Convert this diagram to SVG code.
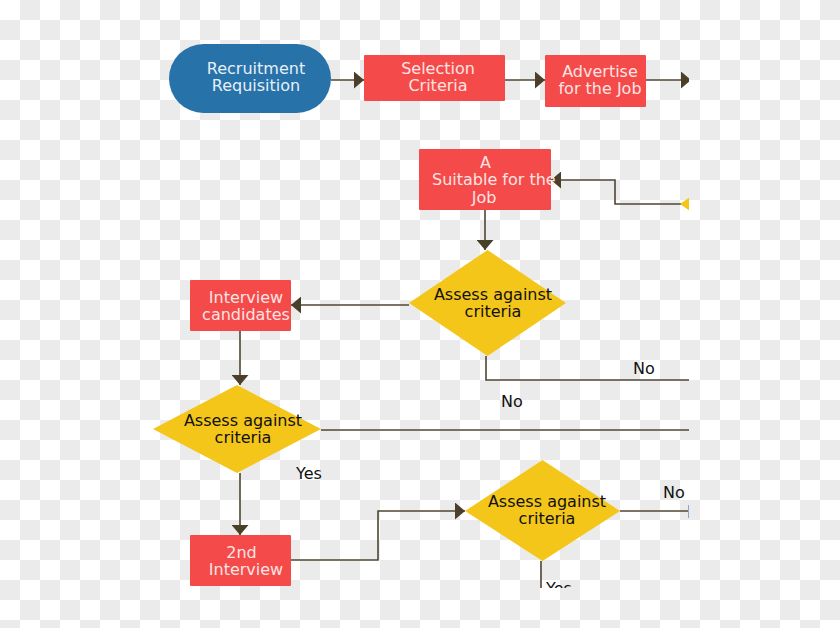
<svg xmlns="http://www.w3.org/2000/svg" width="840" height="628" viewBox="0 0 840 628">
<defs>
<pattern id="checker" x="0" y="0" width="40" height="40" patternUnits="userSpaceOnUse">
<rect width="40" height="40" fill="#ffffff"/>
<rect x="20" y="0" width="20" height="20" fill="#ebebeb"/>
<rect x="0" y="20" width="20" height="20" fill="#ebebeb"/>
</pattern>
<clipPath id="clip"><rect x="0" y="0" width="689" height="588"/></clipPath>
<marker id="arr" markerUnits="userSpaceOnUse" markerWidth="10" markerHeight="17" refX="10" refY="8.5" orient="auto">
<path d="M0,0 L10,8.5 L0,17 z" fill="#4a4029"/>
</marker>
</defs>
<style>
.conn{fill:none;stroke:#4f4634;stroke-width:1.6}
.box{fill:#f44b4a}
.dia{fill:#f4c61a}
.wt{font-family:"DejaVu Sans",sans-serif;font-size:16px;fill:#fde3e3;text-anchor:middle}
.bt{font-family:"DejaVu Sans",sans-serif;font-size:16px;fill:#111111;text-anchor:middle}
.lbl{font-family:"DejaVu Sans",sans-serif;font-size:16px;fill:#111111}
</style>
<rect width="840" height="628" fill="url(#checker)"/>
<g clip-path="url(#clip)">
<g id="connectors">
<path class="conn" d="M331,80 H364" marker-end="url(#arr)"/>
<path class="conn" d="M505,80 H545" marker-end="url(#arr)"/>
<path class="conn" d="M646,80 H691" marker-end="url(#arr)"/>
<path class="conn" d="M682,204 H615 V180 H551" marker-end="url(#arr)"/>
<path class="conn" d="M485,210 V250" marker-end="url(#arr)"/>
<path class="conn" d="M409,305 H291" marker-end="url(#arr)"/>
<path class="conn" d="M486,356 V380 H692"/>
<path class="conn" d="M240,331 V385" marker-end="url(#arr)"/>
<path class="conn" d="M321,430 H692"/>
<path class="conn" d="M240,473 V535" marker-end="url(#arr)"/>
<path class="conn" d="M291,560 H378 V511 H465" marker-end="url(#arr)"/>
<path class="conn" d="M620,511 H688"/>
<path d="M688.5,505 V518" stroke="#8fa6c4" stroke-width="1" fill="none"/>
<path class="conn" d="M541,561 V600"/>
</g>
<g id="recruitment-requisition">
<rect x="169" y="44" width="162" height="69" rx="34.5" fill="#2672a9"/>
<text class="wt" x="256" y="74" style="fill:#e8eff7">Recruitment</text>
<text class="wt" x="256" y="91" style="fill:#e8eff7">Requisition</text>
</g>
<g id="selection-criteria">
<rect class="box" x="364" y="55" width="141" height="46" rx="1"/>
<text class="wt" x="438" y="74">Selection</text>
<text class="wt" x="438" y="91">Criteria</text>
</g>
<g id="advertise">
<rect class="box" x="545" y="55" width="101" height="52" rx="1"/>
<text class="wt" x="600" y="77">Advertise</text>
<text class="wt" x="600" y="94">for the Job</text>
</g>
<g id="offscreen-decision">
<polygon class="dia" points="680,204 760,148 840,204 760,260"/>
</g>
<g id="suitable">
<rect class="box" x="419" y="149" width="132" height="61" rx="1"/>
<text class="wt" x="485.5" y="168">A</text>
<text class="wt" x="432" y="185" style="text-anchor:start">Suitable for the</text>
<text class="wt" x="484" y="203">Job</text>
</g>
<g id="assess-1">
<polygon class="dia" points="409,303 487.5,250 566,303 487.5,356"/>
<text class="bt" x="493" y="300">Assess against</text>
<text class="bt" x="493" y="317">criteria</text>
</g>
<g id="interview-candidates">
<rect class="box" x="190" y="280" width="101" height="51" rx="1"/>
<text class="wt" x="246" y="303">Interview</text>
<text class="wt" x="246" y="320">candidates</text>
</g>
<g id="assess-2">
<polygon class="dia" points="153,429 237,385 321,429 237,473"/>
<text class="bt" x="243" y="426">Assess against</text>
<text class="bt" x="243" y="443">criteria</text>
</g>
<g id="second-interview">
<rect class="box" x="190" y="535" width="101" height="51" rx="1"/>
<text class="wt" x="241.5" y="558">2nd</text>
<text class="wt" x="246" y="575">Interview</text>
</g>
<g id="assess-3">
<polygon class="dia" points="465,511 542.5,460 620,511 542.5,561"/>
<text class="bt" x="547" y="507">Assess against</text>
<text class="bt" x="547" y="524">criteria</text>
</g>
<g id="labels">
<text class="lbl" x="633" y="374">No</text>
<text class="lbl" x="501" y="407">No</text>
<text class="lbl" x="296" y="479">Yes</text>
<text class="lbl" x="663" y="498">No</text>
<text class="lbl" x="546" y="594">Yes</text>
</g>
</g>
</svg>
